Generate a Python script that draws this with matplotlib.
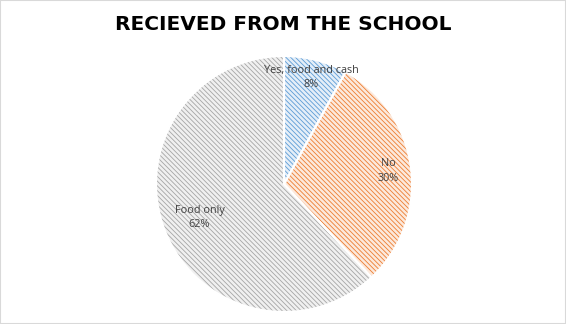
import numpy as np
import matplotlib.pyplot as plt
from matplotlib.patches import Rectangle

labels = ['Yes, food and cash', 'No', 'Food only']
shares = [8, 30, 62]
hatch_colors = ['#5b9bd5', '#ed7d31', '#a5a5a5']
fill_colors = ['#e4eef8', '#fce9dc', '#f0f0f0']
label_dist = [0.86, 0.82, 0.71]

plt.rcParams['hatch.linewidth'] = 0.6

fig = plt.figure(figsize=(5.66, 3.24), dpi=100)
fig.patches.append(Rectangle((0, 0), 1, 1, transform=fig.transFigure,
                             fill=False, edgecolor='#d9d9d9', linewidth=1.5))

ax = fig.add_axes([156 / 566, 12 / 324, 256 / 566, 256 / 324])

# hatched fill, hatch takes the edge colour
wedges, _ = ax.pie(shares, startangle=90, counterclock=False, radius=1,
                   colors=fill_colors,
                   wedgeprops=dict(linewidth=0, hatch='\\' * 7))
for w, hc in zip(wedges, hatch_colors):
    w.set_edgecolor(hc)

# white separators on top
ax.pie(shares, startangle=90, counterclock=False, radius=1,
       wedgeprops=dict(fill=False, edgecolor='white', linewidth=1.5))

for w, lab, s, d in zip(wedges, labels, shares, label_dist):
    ang = np.deg2rad((w.theta1 + w.theta2) / 2)
    ax.text(d * np.cos(ang), d * np.sin(ang), f'{lab}\n{s}%',
            ha='center', va='center', fontsize=7.8, color='#404040',
            family='Open Sans', linespacing=1.45)

ax.set_xlim(-1, 1)
ax.set_ylim(-1, 1)
ax.set_aspect('equal')
ax.axis('off')

fig.text(0.5, 1 - 25 / 324, 'RECIEVED FROM THE SCHOOL', ha='center', va='center',
         fontsize=14.5, fontweight='bold', family='DejaVu Sans', color='black')

fig.savefig('out.png', dpi=100)
